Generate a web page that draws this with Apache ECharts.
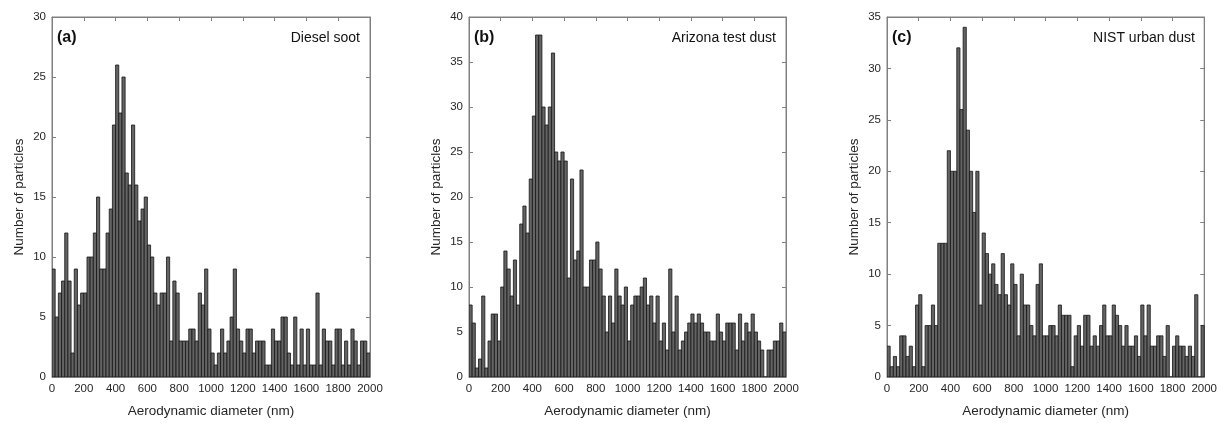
<!DOCTYPE html>
<html><head><meta charset="utf-8">
<script src="https://cdn.jsdelivr.net/npm/echarts@6/dist/echarts.min.js"></script>
<style>html,body{margin:0;padding:0;background:#fff}#c{width:1220px;height:423px}</style>
</head><body><div id="c"></div>
<script>
// histogram bins: 0..2000 nm, 20 nm wide
const binWidth = 20;
const xMin = 0, xMax = 2000, xInterval = 200;

const dieselSoot = [
  9,5,7,8,12,8,2,9,6,7, 7,10,10,12,15,9,9,12,14,21,
  26,22,25,17,16,21,16,13,14,15, 11,10,7,6,7,7,10,3,8,7,
  3,3,3,4,4,3,7,6,9,4, 2,1,2,4,2,3,5,9,4,3,
  2,4,4,2,3,3,3,1,1,4, 3,3,5,5,2,1,5,1,4,1,
  4,1,1,7,1,4,3,3,1,4, 4,1,3,1,4,3,1,3,3,2
];
const arizonaDust = [
  8,6,1,2,9,1,4,7,7,4, 10,14,12,9,13,8,17,19,16,22,
  29,38,38,30,28,30,36,25,24,25, 24,11,22,13,14,23,10,10,13,13,
  15,12,9,5,9,6,12,9,8,10, 4,8,9,9,10,11,8,9,6,9,
  4,6,3,12,5,9,3,4,5,6, 7,6,7,6,5,5,4,4,7,5,
  4,6,6,6,3,7,4,6,5,7, 5,4,3,0,3,3,4,4,6,5
];
const nistDust = [
  3,1,2,1,4,4,2,3,1,7, 8,1,5,5,7,5,13,13,13,22,
  20,20,32,26,34,24,20,16,20,7, 14,12,10,11,9,8,12,8,7,11,
  9,4,10,7,7,5,4,9,11,4, 4,5,5,4,7,6,6,6,1,4,
  5,3,6,6,3,4,3,5,7,4, 4,7,6,5,3,5,3,3,4,2,
  7,4,7,3,3,4,4,2,5,0, 3,4,3,3,2,3,2,8,0,5
];

const panelSeries = [dieselSoot, arizonaDust, nistDust];
const panelLetters = ['(a)', '(b)', '(c)'];
const panelNames = ['Diesel soot', 'Arizona test dust', 'NIST urban dust'];
const yMaxes = [30, 40, 35];
const yInterval = 5;
const xTitle = 'Aerodynamic diameter (nm)';
const yTitle = 'Number of particles';

const FONT = 'Arial, "Liberation Sans", Helvetica, sans-serif';
const BOX = '#808080';
const TXT = '#262626';

const gridBoxes = [
  {left: 52, top: 17, width: 318, height: 360},
  {left: 469, top: 17, width: 317, height: 360},
  {left: 887, top: 17, width: 318, height: 360}
];

const grid = [], xAxis = [], yAxis = [], series = [], title = [];

function renderItem(params, api) {
  const p0 = api.coord([api.value(0), api.value(2)]);
  const p1 = api.coord([api.value(1), 0]);
  return {
    type: 'rect',
    shape: {x: p0[0], y: p0[1], width: p1[0] - p0[0], height: p1[1] - p0[1]},
    style: {fill: '#646464', stroke: '#151515', lineWidth: 0.8}
  };
}

gridBoxes.forEach((g, i) => {
  grid.push(Object.assign({show: true, borderColor: BOX, borderWidth: 1, backgroundColor: '#fff'}, g));
  const xBase = {
    gridIndex: i, type: 'value', min: xMin, max: xMax, interval: xInterval,
    splitLine: {show: false},
    axisLine: {show: true, onZero: false, lineStyle: {color: BOX, width: 1}},
    axisTick: {show: true, inside: true, length: 4, lineStyle: {color: BOX}}
  };
  xAxis.push(Object.assign({}, xBase, {
    position: 'bottom',
    axisLabel: {color: TXT, fontSize: 11.5, fontFamily: FONT, margin: 6, formatter: v => String(v)},
    name: xTitle, nameLocation: 'middle', nameGap: 27,
    nameTextStyle: {color: TXT, fontSize: 13.5, fontFamily: FONT}
  }));
  xAxis.push(Object.assign({}, xBase, {position: 'top', axisLabel: {show: false}}));
  const yBase = {
    gridIndex: i, type: 'value', min: 0, max: yMaxes[i], interval: yInterval,
    splitLine: {show: false},
    axisLine: {show: true, onZero: false, lineStyle: {color: BOX, width: 1}},
    axisTick: {show: true, inside: true, length: 4, lineStyle: {color: BOX}}
  };
  yAxis.push(Object.assign({}, yBase, {
    position: 'left',
    axisLabel: {color: TXT, fontSize: 11.5, fontFamily: FONT, margin: 6, formatter: v => String(v)},
    name: yTitle, nameLocation: 'middle', nameGap: 26,
    nameTextStyle: {color: TXT, fontSize: 13.5, fontFamily: FONT}
  }));
  yAxis.push(Object.assign({}, yBase, {position: 'right', axisLabel: {show: false}}));

  const vals = panelSeries[i];
  series.push({
    type: 'custom',
    xAxisIndex: 2 * i, yAxisIndex: 2 * i,
    renderItem: renderItem,
    encode: {x: [0, 1], y: 2},
    data: vals.map((v, k) => [k * binWidth, (k + 1) * binWidth, v]),
    silent: true, animation: false, clip: true
  });

  title.push({
    text: panelLetters[i], left: g.left + 5, top: 30, padding: 0,
    textStyle: {fontSize: 16, fontWeight: 'bold', color: '#111', fontFamily: FONT}
  });
  title.push({
    text: panelNames[i], right: 1220 - (g.left + g.width) + 10, top: 31, padding: 0,
    textStyle: {fontSize: 14, fontWeight: 'normal', color: '#111', fontFamily: FONT}
  });
});

const chart = echarts.init(document.getElementById('c'), null, {renderer: 'canvas'});
chart.setOption({
  animation: false,
  backgroundColor: '#fff',
  title: title,
  grid: grid,
  xAxis: xAxis,
  yAxis: yAxis,
  series: series
});
</script>
</body></html>
